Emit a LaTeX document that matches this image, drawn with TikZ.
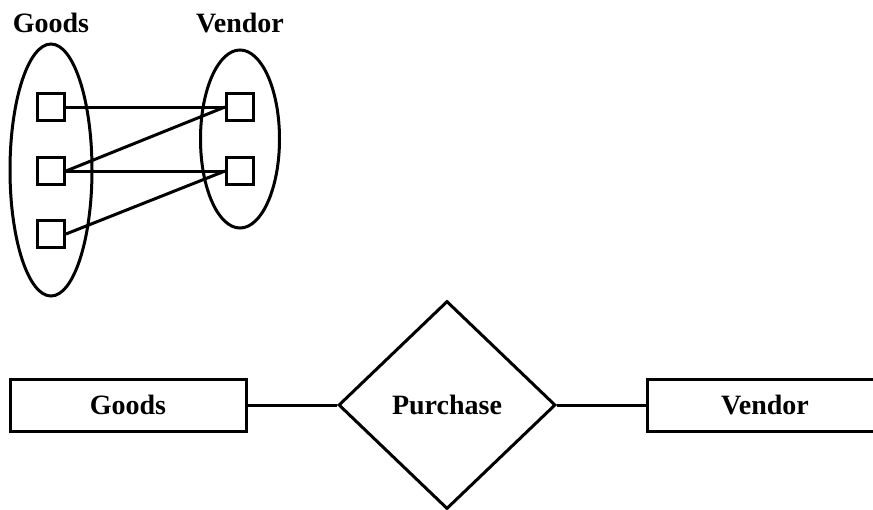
\documentclass[tikz,border=0pt]{standalone}
\usepackage{fontspec}
\setmainfont{Liberation Serif}
\usetikzlibrary{shapes.geometric}
\tikzset{
  line/.style={line width=3pt},
  lbl/.style={font=\fontsize{28}{30}\selectfont\bfseries, inner sep=0pt},
  setell/.style={draw, line width=3pt, ellipse, inner sep=0pt},
  elem/.style={draw, line width=3pt, rectangle, minimum size=27pt, inner sep=0pt},
  entity/.style={draw, line width=3pt, rectangle, minimum width=236pt, minimum height=52pt, inner sep=0pt, font=\fontsize{28}{30}\selectfont\bfseries},
  rel/.style={draw, line width=3pt, diamond, minimum width=217pt, minimum height=208pt, inner sep=0pt, font=\fontsize{28}{30}\selectfont\bfseries}
}
\begin{document}
\begin{tikzpicture}[x=1pt,y=-1pt]
\useasboundingbox (0,0) rectangle (873,509);
\clip (0,0) rectangle (873,509);
% top set diagram
\node[lbl] (tg) at (51,23) {Goods};
\node[lbl] (tv) at (240,23) {Vendor};
\node[setell, minimum width=82pt, minimum height=252pt] (eg) at (51,170) {};
\node[setell, minimum width=79pt, minimum height=178pt] (ev) at (240,139) {};
\node[elem] (g1) at (51,107) {};
\node[elem] (g2) at (51,171) {};
\node[elem] (g3) at (51,234) {};
\node[elem] (v1) at (240,107) {};
\node[elem] (v2) at (240,171) {};
\draw[line] (g1.east) -- (v1.west);
\draw[line] (g2.east) -- (v1.west);
\draw[line] (g2.east) -- (v2.west);
\draw[line] (g3.east) -- (v2.west);
% ER diagram
\node[entity] (goods) at (128,405) {Goods};
\node[rel] (pur) at (447,405) {Purchase};
\node[entity] (vendor) at (765,405) {Vendor};
\draw[line] (goods.east) -- (pur.west);
\draw[line] (pur.east) -- (vendor.west);
\end{tikzpicture}
\end{document}
